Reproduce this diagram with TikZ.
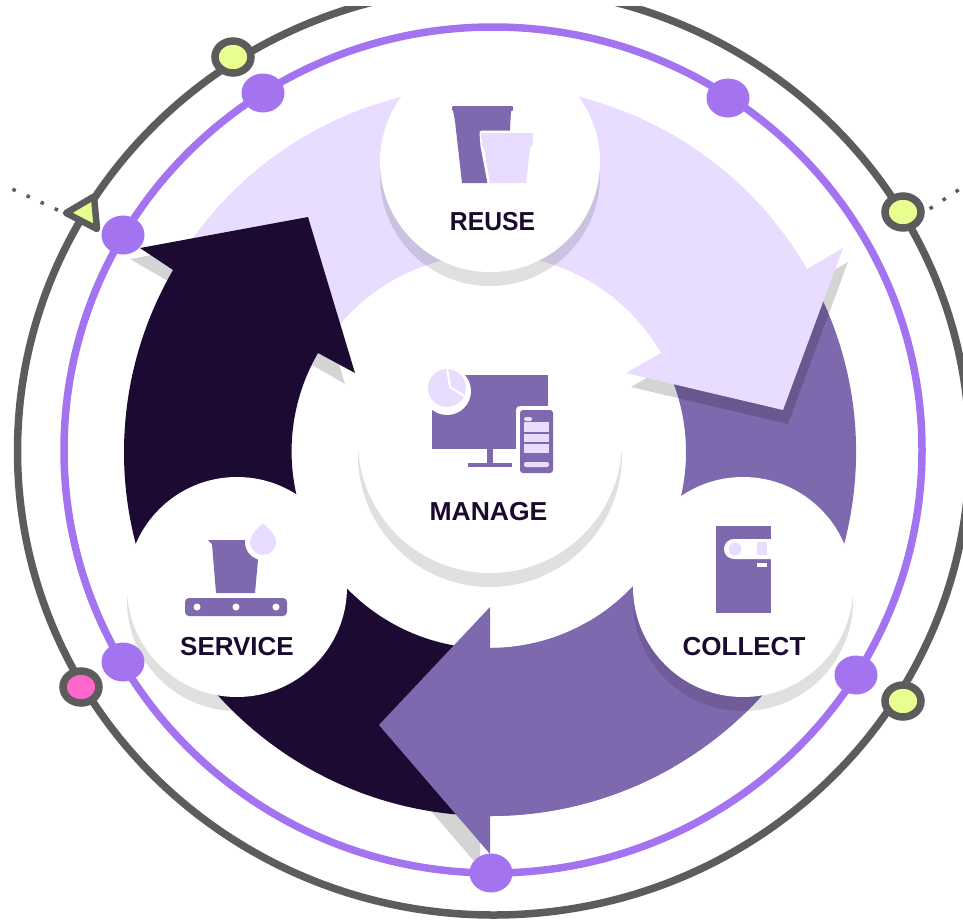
\documentclass[tikz,border=0pt]{standalone}
\usepackage{fontspec}
\setmainfont{Liberation Sans}
\usetikzlibrary{shapes.geometric}
\definecolor{lav}{HTML}{E8DCFF}
\definecolor{pur}{HTML}{7F69AE}
\definecolor{drk}{HTML}{1D0A33}
\definecolor{ringp}{HTML}{A474F0}
\definecolor{ringg}{HTML}{5C5C5C}
\definecolor{lime}{HTML}{E8FF8F}
\definecolor{pinkd}{HTML}{FF66CC}
\definecolor{ink}{HTML}{1A0B2E}
\tikzset{
  headshadow/.style={fill=black,fill opacity=0.17},
  discshadow/.style={circle,fill=black,fill opacity=0.12,inner sep=0pt},
  disc/.style={circle,fill=white,inner sep=0pt},
  lbl/.style={inner sep=0pt,text=ink,font=\fontsize{26}{30}\bfseries\selectfont},
  pdot/.style={ellipse,fill=ringp,inner sep=0pt,minimum width=43pt,minimum height=39pt},
  gdot/.style={ellipse,draw=ringg,line width=7.5pt,inner sep=0pt,minimum width=36pt,minimum height=32pt},
  dots/.style={ringg,line width=3.5pt,dash pattern=on 3.5pt off 12pt}
}
\begin{document}
\begin{tikzpicture}[x=1pt,y=-1pt]
\useasboundingbox (0,0) rectangle (963,921);
% rings
\begin{scope}
\clip (0,6) rectangle (963,921);
\draw[ringg,line width=7.5pt] (493.5,451) ellipse [x radius=476,y radius=464];
\end{scope}
\draw[ringp,line width=7.5pt] (493,450) ellipse [x radius=429,y radius=423];
% purple arrow band (tail under lavender head)
\fill[pur] (490,452)++(-27:366 and 364) arc[start angle=-27,end angle=90,x radius=366,y radius=364] -- (490,648)
  arc[start angle=90,end angle=-27,radius=196] -- cycle;
% lavender arrow
\fill[headshadow,shift={(5,14)}] (843,248) -- (783,410) -- (626,373) -- cycle;
\fill[lav] (490,452)++(212:366) arc[start angle=212,end angle=330,radius=366]
  -- (843,248) -- (783,410) -- (626,373) -- (661,353)
  arc[start angle=330,end angle=212,radius=197] -- cycle;
% shadows that fall only on the white ground
\fill[headshadow,shift={(-10,14)}] (490,607) -- (379,725) -- (490,854) -- cycle;
\node[discshadow,minimum size=220pt] at (237,601) {};
% dark arrow
\fill[headshadow,shift={(-10,11)}] (140,248) -- (308,217) -- (355,373) -- cycle;
\fill[drk] (490,452)++(92:366 and 364) arc[start angle=92,end angle=210,x radius=366,y radius=364]
  -- (140,248) -- (308,217) -- (355,373) -- (318,353)
  arc[start angle=210,end angle=92,radius=197] -- cycle;
% purple head on top
\fill[pur] (490,452)++(60:366 and 364) arc[start angle=60,end angle=90,x radius=366,y radius=364]
  -- (490,854) -- (379,725) -- (490,607) -- (490,648)
  arc[start angle=90,end angle=60,radius=196] -- cycle;
% discs
\node[discshadow,minimum size=220pt] at (490,176) {};
\node[discshadow,minimum size=264pt] at (490,455) {};
\node[discshadow,minimum size=220pt] at (743,601) {};
\node[disc,minimum size=220pt] (reuse) at (490,162) {};
\node[disc,minimum size=264pt] (manage) at (490,441) {};
\node[disc,minimum size=220pt] (service) at (237,587) {};
\node[disc,minimum size=220pt] (collect) at (743,587) {};
% reuse icon
\fill[pur,rounded corners=1pt] (452,106) -- (513,106) -- (513,111) -- (452,111) -- cycle;
\fill[pur] (453,110) -- (455,121) -- (462,183) -- (495,183) -- (510,130) -- (511,110) -- cycle;
\draw[white,line width=5pt,line join=round] (482,133) -- (533,133) -- (532,146) -- (526,183) -- (490,183) -- (483,146) -- cycle;
\fill[lav] (481,133) -- (533,133) -- (532.5,145) -- (530,148) -- (526,183) -- (490,183) -- (484,148) -- (482,145) -- cycle;
% manage icon
\fill[pur] (432,375) rectangle (548,449);
\fill[pur] (487,449) rectangle (493,463);
\fill[pur] (468,463) rectangle (512,466.5);
\fill[white] (447,391) circle (24);
\fill[lav] (447,388) circle (19);
\draw[white,line width=2pt] (447,368) -- (450,387) -- (466,397);
\fill[white,rounded corners=4pt] (516,406) rectangle (556,477);
\fill[pur,rounded corners=3pt] (520,410) rectangle (553,473);
\fill[lav] (524,422) rectangle (549,432);
\fill[lav] (524,433.5) rectangle (549,442);
\fill[lav] (524,444) rectangle (549,453);
\fill[lav,rounded corners=2pt] (524,462) rectangle (549,467);
\fill[lav,rounded corners=1.5pt] (524,417) rectangle (532,421);
% service icon
\fill[pur] (208,540) -- (246,540) -- (258,560) -- (255,593) -- (216,593) -- (212,544) -- cycle;
\fill[white] (263,542) circle (18);
\fill[lav] (263,523) .. controls (267,528) and (276,534) .. (276,542)
  arc[start angle=0,end angle=180,radius=13] .. controls (250,534) and (259,528) .. cycle;
\fill[pur,rounded corners=4pt] (185,598) rectangle (287,616);
\foreach \px in {197,236,276} \fill[white] (\px,607) circle (3.5);
% collect icon
\fill[pur] (716,526) rectangle (771,613);
\fill[white,rounded corners=9.9pt] (724,539) rectangle (790,559);
\fill[lav] (735,549) circle (6.5);
\fill[lav] (757,542) rectangle (767,555);
\fill[white] (757,563) rectangle (767,567);
% labels
\node[lbl] (reusetext) at (492.5,221.5) {\scalebox{0.95}[1]{REUSE}};
\node[lbl] (managetext) at (488.5,511.5) {\scalebox{1.02}[1]{MANAGE}};
\node[lbl] (servicetext) at (237,646.5) {SERVICE};
\node[lbl] (collecttext) at (744,646.5) {COLLECT};
% purple dots
\node[pdot] (p1) at (263,93) {};
\node[pdot] (p2) at (123,235) {};
\node[pdot] (p3) at (728,98) {};
\node[pdot] (p4) at (123,662) {};
\node[pdot] (p5) at (856,675) {};
\node[pdot] (p6) at (491,873) {};
% ringed dots
\node[gdot,fill=lime] (g1) at (233,57) {};
\node[gdot,fill=lime] (g2) at (903,212) {};
\node[gdot,fill=lime] (g3) at (903,701) {};
\node[gdot,fill=pinkd] (g4) at (81,687) {};
% triangle marker and dotted leaders
\coordinate (tri) at (62,212);
\coordinate (leftend) at (10,188);
\coordinate (rightend) at (963,187);
\draw[dots,dash phase=11pt] (tri) -- (leftend);
\draw[dots,dash phase=9.5pt] (g2.east) -- (rightend);
\draw[ringg,fill=lime,line width=6.5pt,line join=round] (66,213) -- (94,196.5) -- (97,229) -- cycle;
\end{tikzpicture}
\end{document}
